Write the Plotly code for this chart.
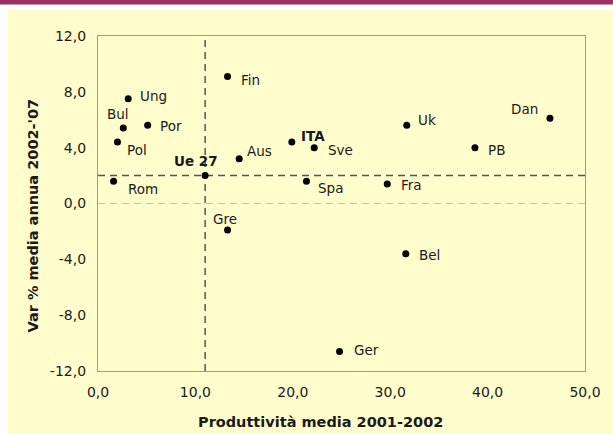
import plotly.graph_objects as go

# ---- data ----
countries = ["Fin", "Ung", "Bul", "Por", "Pol", "Aus", "ITA", "Ue 27", "Rom",
             "Spa", "Sve", "Uk", "Dan", "PB", "Fra", "Gre", "Ger", "Bel"]
produttivita = [13.3, 3.1, 2.6, 5.1, 2.0, 14.5, 19.9, 11.0, 1.6,
                21.4, 22.2, 31.7, 46.4, 38.7, 29.7, 13.3, 24.8, 31.6]
var_media = [9.1, 7.5, 5.4, 5.6, 4.4, 3.2, 4.4, 2.0, 1.6,
             1.6, 4.0, 5.6, 6.1, 4.0, 1.4, -1.9, -10.6, -3.6]
x_ticks = [0, 10, 20, 30, 40, 50]
y_ticks = [-12, -8, -4, 0, 4, 8, 12]
x_title = "Produttività media 2001-2002"
y_title = "Var % media annua 2002-'07"
bold_labels = {"ITA", "Ue 27"}
reference = "Ue 27"

# ---- label placement (style) : anchor, xshift, yshift ----
label_pos = {
    "Fin": ("left", 11, -4), "Ung": ("left", 10, 3), "Bul": ("center", -5, 14),
    "Por": ("left", 10, -1), "Pol": ("left", 8, -8), "Aus": ("left", 6, 8),
    "ITA": ("left", 7, 6), "Ue 27": ("center", -9, 15), "Rom": ("left", 12, -8),
    "Spa": ("left", 10, -7), "Sve": ("left", 12, -2), "Uk": ("left", 9, 5),
    "Dan": ("right", -10, 9), "PB": ("left", 11, -2), "Fra": ("left", 12, -1),
    "Gre": ("center", -3, 11), "Ger": ("left", 12, 1), "Bel": ("left", 11, -1),
}

CREAM = "#FFFDCC"
PURPLE = "#9B3163"
FONT = "DejaVu Sans"
TXT = "#1a1a1a"

# plot-area pixel geometry for paper-coordinate conversions
L, R, T, B = 98, 585, 36, 371
W, H = 613, 434
def px(x):
    return (x - L) / (R - L)
def py(y):
    return (B - y) / (B - T)

fig = go.Figure()
fig.add_trace(go.Scatter(
    x=produttivita, y=var_media, mode="markers",
    marker=dict(color="black", size=7),
    hoverinfo="skip", showlegend=False,
))

annotations = []
for c, xv, yv in zip(countries, produttivita, var_media):
    anchor, xs, ys = label_pos[c]
    txt = f"<b>{c}</b>" if c in bold_labels else c
    annotations.append(dict(
        x=xv, y=yv, xref="x", yref="y", text=txt, showarrow=False,
        xanchor=anchor, yanchor="middle", xshift=xs, yshift=ys,
        font=dict(family=FONT, size=13.5, color=TXT),
    ))

annotations.append(dict(
    x=px(320), y=py(421.5), xref="paper", yref="paper",
    text=f"<b>{x_title}</b>", showarrow=False, xanchor="center", yanchor="middle",
    font=dict(family=FONT, size=14.5, color=TXT),
))
annotations.append(dict(
    x=px(33), y=py(215.5), xref="paper", yref="paper", textangle=-90,
    text=f"<b>{y_title}</b>", showarrow=False, xanchor="center", yanchor="middle",
    font=dict(family=FONT, size=14.5, color=TXT),
))

ri = countries.index(reference)
rx, ry = produttivita[ri], var_media[ri]

shapes = [
    # cream panel and purple banner
    dict(type="rect", xref="paper", yref="paper", layer="below",
         x0=px(8), x1=px(W + 2), y0=py(9.5), y1=py(H + 2),
         fillcolor=CREAM, line=dict(width=0)),
    dict(type="rect", xref="paper", yref="paper", layer="below",
         x0=px(-2), x1=px(W + 2), y0=py(4.5), y1=py(-2),
         fillcolor=PURPLE, line=dict(width=0)),
    # zero line
    dict(type="line", xref="x", yref="y", x0=x_ticks[0], x1=x_ticks[-1], y0=0, y1=0,
         line=dict(color="#c0c0c0", width=1.2, dash="7px,5px"), layer="below"),
    # Ue 27 reference lines
    dict(type="line", xref="x", yref="y", x0=rx, x1=rx, y0=y_ticks[0], y1=y_ticks[-1],
         line=dict(color="#555555", width=1.5, dash="7px,5px"), layer="below"),
    dict(type="line", xref="x", yref="y", x0=x_ticks[0], x1=x_ticks[-1], y0=ry, y1=ry,
         line=dict(color="#555555", width=1.5, dash="7px,5px"), layer="below"),
]

axis_common = dict(
    showgrid=False, zeroline=False, showline=True, linecolor="#9a9a9a",
    linewidth=1.2, mirror=True, ticks="",
    tickfont=dict(family=FONT, size=14, color=TXT),
)

fig.update_layout(
    width=W, height=H,
    margin=dict(l=L, r=W - R, t=T, b=H - B, pad=0),
    paper_bgcolor="white", plot_bgcolor=CREAM,
    xaxis=dict(range=[x_ticks[0], x_ticks[-1]], tickvals=x_ticks,
               ticktext=[f"{v:.1f}".replace(".", ",") for v in x_ticks],
               ticklabelstandoff=8, **axis_common),
    yaxis=dict(range=[y_ticks[0], y_ticks[-1]], tickvals=y_ticks,
               ticktext=[f"{v:.1f}".replace(".", ",") for v in y_ticks],
               ticklabelstandoff=8, **axis_common),
    annotations=annotations, shapes=shapes,
)

fig.write_html(
    "out.html",
    config={"displayModeBar": False},
    post_script="document.body.style.margin='0';document.body.style.overflow='hidden';",
)
